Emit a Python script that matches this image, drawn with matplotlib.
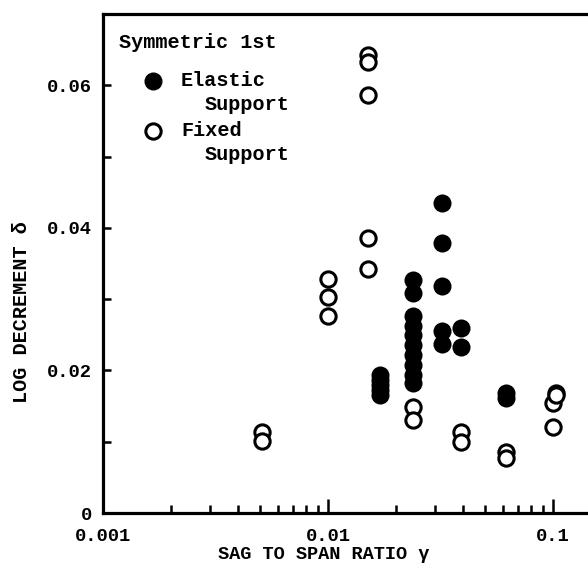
import numpy as np
import matplotlib
matplotlib.use("Agg")
import matplotlib.pyplot as plt
from matplotlib.ticker import FixedLocator, NullFormatter, FuncFormatter

# Elastic support (filled circles)
elastic_x = [0.017, 0.017, 0.017, 0.017, 0.017,
             0.024, 0.024, 0.024, 0.024, 0.024, 0.024, 0.024, 0.024, 0.024, 0.024,
             0.032, 0.032, 0.032, 0.032, 0.032,
             0.039, 0.039,
             0.062, 0.062]
elastic_y = [0.0193, 0.0186, 0.0179, 0.0172, 0.0166,
             0.0327, 0.0308, 0.0277, 0.0263, 0.0249, 0.0235, 0.0221, 0.0207, 0.0193, 0.0182,
             0.0435, 0.0379, 0.0318, 0.0256, 0.0237,
             0.0259, 0.0233,
             0.0168, 0.0162]

# Fixed support (open circles)
fixed_x = [0.0051, 0.0051,
           0.010, 0.010, 0.010,
           0.015, 0.015, 0.015, 0.015, 0.015,
           0.024, 0.024,
           0.039, 0.039,
           0.062, 0.062,
           0.100, 0.100, 0.103, 0.103]
fixed_y = [0.0113, 0.0101,
           0.0328, 0.0303, 0.0277,
           0.0642, 0.0633, 0.0586, 0.0386, 0.0342,
           0.0149, 0.0131,
           0.0113, 0.0100,
           0.0086, 0.0077,
           0.0155, 0.0121, 0.0169, 0.0165]

FONT = "Liberation Mono"

fig = plt.figure(figsize=(5.88, 5.71), dpi=100)
W, H = 588, 571
x0, x1, y0, y1 = 103, 588, 513, 14
ax = fig.add_axes([x0 / W, (H - y0) / H, (x1 - x0) / W, (y0 - y1) / H])

filled = dict(color='black', markersize=13, markeredgewidth=0)
hollow = dict(markerfacecolor='white', markeredgecolor='black',
              markersize=11, markeredgewidth=2.2)

ax.plot(elastic_x, elastic_y, 'o', clip_on=False, **filled)
ax.plot(fixed_x, fixed_y, 'o', clip_on=False, **hollow)

ax.set_xscale('log')
ax.set_xlim(0.001, 0.1432)
ax.set_ylim(0, 0.07)

ax.spines['right'].set_visible(False)
for s in ['left', 'bottom', 'top']:
    ax.spines[s].set_linewidth(2.3)

ax.xaxis.set_major_locator(FixedLocator([0.001, 0.01, 0.1]))
ax.xaxis.set_major_formatter(FuncFormatter(lambda v, p: f"{v:g}"))
ax.xaxis.set_minor_locator(FixedLocator(
    [k * 10.0 ** e for e in (-3, -2, -1) for k in range(2, 10) if k * 10.0 ** e < 0.143]))
ax.xaxis.set_minor_formatter(NullFormatter())
ax.yaxis.set_major_locator(FixedLocator([0, 0.02, 0.04, 0.06]))
ax.yaxis.set_major_formatter(FuncFormatter(lambda v, p: "0" if v == 0 else f"{v:.2f}"))
ax.yaxis.set_minor_locator(FixedLocator([0.01, 0.03, 0.05]))

ax.tick_params(axis='both', which='both', direction='in', width=1.8,
               top=False, right=False)
ax.tick_params(axis='x', which='major', length=10, pad=11)
ax.tick_params(axis='x', which='minor', length=6)
ax.tick_params(axis='y', which='both', length=6, pad=8)
for lbl in ax.get_xticklabels() + ax.get_yticklabels():
    lbl.set_fontfamily(FONT)
    lbl.set_fontweight('bold')
    lbl.set_fontsize(13.5)

ax.set_xlabel("SAG TO SPAN RATIO γ", family=FONT, fontweight='bold', fontsize=13.4)
ax.xaxis.set_label_coords(0.456, -0.066)
ax.set_ylabel("LOG DECREMENT δ", family=FONT, fontweight='bold', fontsize=14.5)
ax.yaxis.set_label_coords(-0.148, 0.403)

# legend drawn in axes coordinates
def axpos(px, py):
    return (px - x0) / (x1 - x0), (y0 - py) / (y0 - y1)

tkw = dict(transform=ax.transAxes, family=FONT, fontweight='bold',
           fontsize=14.5, va='center', ha='left')
ax.text(*axpos(119, 43), "Symmetric 1st", **tkw)
ax.plot(*axpos(153, 81), 'o', transform=ax.transAxes, clip_on=False, **filled)
ax.text(*axpos(181, 80), "Elastic", **tkw)
ax.text(*axpos(205, 105), "Support", **tkw)
ax.plot(*axpos(153, 131), 'o', transform=ax.transAxes, clip_on=False, **hollow)
ax.text(*axpos(181, 130), "Fixed", **tkw)
ax.text(*axpos(205, 155), "Support", **tkw)

fig.savefig("out.png", dpi=100)
